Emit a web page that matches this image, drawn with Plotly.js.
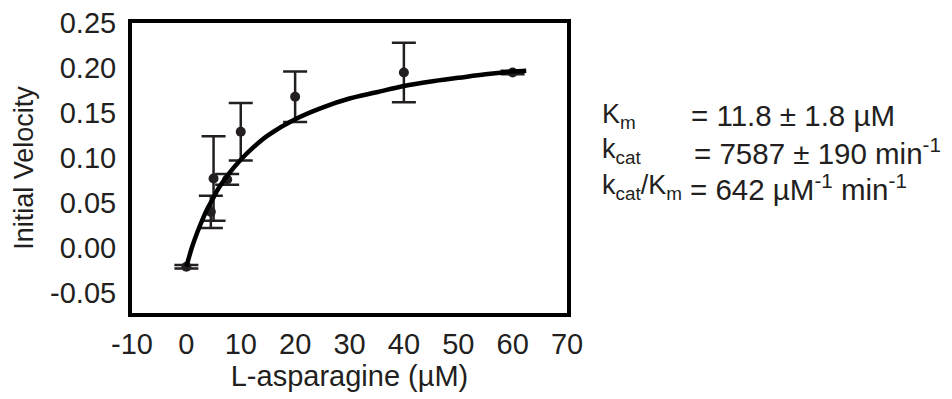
<!DOCTYPE html>
<html>
<head>
<meta charset="utf-8">
<script src="https://cdn.plot.ly/plotly-3.0.1.min.js"></script>
<style>html,body{margin:0;padding:0;background:#fff;}#chart{width:952px;height:399px;}</style>
</head>
<body>
<div id="chart"></div>
<script>
// Measured data points (L-asparagine µM, initial velocity, error)
const substrate = [0, 4.5, 5, 7.5, 10, 20, 40, 60];
const velocity  = [-0.021, 0.040, 0.077, 0.076, 0.129, 0.168, 0.195, 0.195];
const velocityErr = [0.002, 0.018, 0.047, 0.006, 0.032, 0.028, 0.033, 0.002];

// Fitted curve, values
const fitX = [0, 1, 2, 3, 4, 5, 6, 8, 10, 12, 15, 20, 25, 30, 35, 40, 45, 50, 55, 60, 62.5];
const fitY = [-0.021, 0.000, 0.017, 0.032, 0.045, 0.056, 0.067, 0.084, 0.098, 0.110, 0.125, 0.143, 0.156, 0.166, 0.173, 0.180, 0.185, 0.189, 0.193, 0.196, 0.197];

const xTicks = [-10, 0, 10, 20, 30, 40, 50, 60, 70];
const yTicks = [-0.05, 0.00, 0.05, 0.10, 0.15, 0.20, 0.25];
const yTickText = ['-0.05', '0.00', '0.05', '0.10', '0.15', '0.20', '0.25'];

const paramLabels = ['K<sub>m</sub>', 'k<sub>cat</sub>', 'k<sub>cat</sub>/K<sub>m</sub>'];
const paramValues = ['= 11.8 ± 1.8 µM', '= 7587 ± 190 min<sup>-1</sup>', '= 642 µM<sup>-1</sup> min<sup>-1</sup>'];

const ink = '#231f20';
const FONT = '"Liberation Sans", Arial, Helvetica, sans-serif';

const traces = [
  {
    x: substrate, y: velocity, type: 'scatter', mode: 'markers',
    marker: {color: ink, size: 10},
    error_y: {type: 'data', array: velocityErr, visible: true, color: ink, thickness: 2.5, width: 12},
    hoverinfo: 'skip', showlegend: false
  },
  {
    x: fitX, y: fitY, type: 'scatter', mode: 'lines',
    line: {color: '#000', width: 4.5, shape: 'spline'},
    hoverinfo: 'skip', showlegend: false
  }
];

const plotL = 132, plotR = 567, plotT = 23, plotB = 313;
const W = 952, H = 399;
const px2paperX = p => (p - plotL) / (plotR - plotL);
const px2paperY = p => (plotB - p) / (plotB - plotT);

const lineYs = [116, 151, 187];
const annotations = [];
paramLabels.forEach((t, i) => {
  annotations.push({
    xref: 'paper', yref: 'paper', x: px2paperX(600), y: px2paperY(lineYs[i]),
    xanchor: 'left', yanchor: 'middle', text: t, showarrow: false,
    font: {family: FONT, size: 27, color: ink}
  });
});
const eqX = [689, 692, 688];
paramValues.forEach((t, i) => {
  annotations.push({
    xref: 'paper', yref: 'paper', x: px2paperX(eqX[i]), y: px2paperY(lineYs[i]),
    xanchor: 'left', yanchor: 'middle', text: t, showarrow: false,
    font: {family: FONT, size: 29.5, color: ink}
  });
});

const layout = {
  width: W, height: H,
  margin: {l: plotL, r: W - plotR, t: plotT, b: H - plotB, pad: 0},
  paper_bgcolor: '#fff', plot_bgcolor: '#fff',
  font: {family: FONT, color: ink},
  xaxis: {
    range: [-10, 70], tickvals: xTicks, ticktext: xTicks.map(String),
    showgrid: false, zeroline: false, ticks: '', ticklabelstandoff: 2,
    showline: true, mirror: true, linecolor: '#000', linewidth: 4,
    tickfont: {family: FONT, size: 29, color: ink},
    title: {text: 'L-asparagine (µM)', font: {family: FONT, size: 29, color: ink}, standoff: 8}
  },
  yaxis: {
    range: [-0.0725, 0.25], tickvals: yTicks, ticktext: yTickText,
    showgrid: false, zeroline: false, ticks: '', ticklabelstandoff: 6,
    showline: true, mirror: true, linecolor: '#000', linewidth: 4,
    tickfont: {family: FONT, size: 29, color: ink},
    title: {text: 'Initial Velocity', font: {family: FONT, size: 27, color: ink}, standoff: 10}
  },
  annotations: annotations,
  showlegend: false
};

Plotly.newPlot('chart', traces, layout, {displayModeBar: false, staticPlot: true});
</script>
</body>
</html>
